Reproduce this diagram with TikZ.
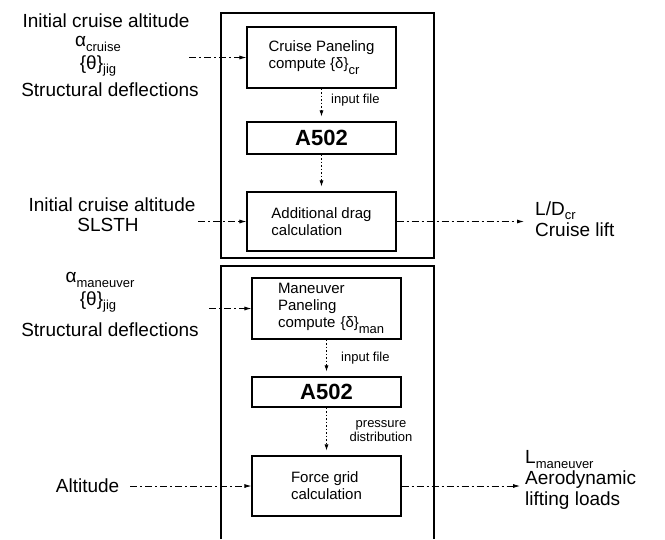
\documentclass[tikz,border=0pt]{standalone}
\usepackage{fontspec}
\setmainfont{Liberation Sans}
\usetikzlibrary{arrows.meta, positioning}

% subscripts set at a fixed size
\newcommand{\lowtxt}[1]{\raisebox{-0.45ex}{\fontsize{13}{13}\selectfont #1}}
\newcommand{\lowbox}[1]{\raisebox{-0.8ex}{\fontsize{13}{13}\selectfont #1}}

\begin{document}
\begin{tikzpicture}[x=1pt, y=-1pt,
    lbl/.style={font=\fontsize{19}{21}\selectfont, inner sep=1pt},
    procbox/.style={draw, line width=1.1pt, minimum width=149pt, inner sep=0pt,
        align=left, font=\fontsize{15}{17}\selectfont},
    tag/.style={font=\fontsize{13}{14}\selectfont, inner sep=1pt, align=center},
    frame/.style={line width=1.5pt},
    flowline/.style={line width=0.8pt, dash pattern=on 7pt off 3pt on 2pt off 3pt,
        -{Latex[length=7pt, width=4pt]}},
    dotline/.style={line width=0.8pt, dash pattern=on 1.5pt off 2pt,
        -{Latex[length=6pt, width=4pt]}, shorten >=5pt}
]

    % Parameters
    \def\xUp{321.5}
    \def\xLo{326.5}

    \useasboundingbox (0,0) rectangle (665,539);

    % Outer frames
    \draw[frame] (221,13) rectangle (434,258);
    \draw[frame] (221,539) -- (221,266) -- (434,266) -- (434,539);

    % Cruise chain
    \node[procbox, minimum height=61pt] (cruise) at (\xUp, 57.5)
        {Cruise Paneling\\compute \{δ\}\lowbox{cr}};
    \node[procbox, minimum height=32pt, font=\bfseries\fontsize{22}{24}\selectfont]
        (a502a) at (\xUp, 138) {A502};
    \node[procbox, minimum height=59pt] (drag) at (\xUp, 221.5)
        {Additional drag\\calculation};

    % Maneuver chain
    \node[procbox, minimum height=61pt, text width=97pt] (maneuver) at (\xLo, 308.5)
        {Maneuver\\Paneling\\compute~\{δ\}\lowbox{man}};
    \node[procbox, minimum height=30pt, font=\bfseries\fontsize{22}{24}\selectfont]
        (a502b) at (\xLo, 392) {A502};
    \node[procbox, minimum height=60pt] (force) at (\xLo, 486)
        {Force grid\\calculation};

    % Links inside the frames
    \draw[dotline] (cruise) -- (a502a);
    \draw[dotline] (a502a) -- (drag);
    \draw[dotline] (maneuver) -- (a502b);
    \draw[dotline] (a502b) -- (force);
    \node[tag, anchor=west] (fileA) at (330, 100) {input file};
    \node[tag, anchor=west] (fileB) at (340, 358) {input file};
    \node[tag] (press) at (381, 431) {pressure\\distribution};

    % Cruise inputs
    \node[lbl] (icaA) at (106, 21) {Initial cruise altitude};
    \node[lbl] (alcr) at (98, 44) {α\lowtxt{cruise}};
    \node[lbl] (thA) at (98, 66) {\{θ\}\lowtxt{jig}};
    \node[lbl] (sdA) at (110, 90) {Structural deflections};
    \node[lbl] (icaB) at (112, 205) {Initial cruise altitude};
    \node[lbl] (slsth) at (108, 225) {SLSTH};
    \coordinate (inCr) at ([xshift=-57pt]cruise.west);
    \coordinate (inSl) at ([xshift=-48pt]drag.west);
    \draw[flowline] (inCr) -- (cruise);
    \draw[flowline] (inSl) -- (drag);

    % Maneuver inputs
    \node[lbl] (alma) at (100, 280) {α\lowtxt{maneuver}};
    \node[lbl] (thB) at (98, 302) {\{θ\}\lowtxt{jig}};
    \node[lbl] (sdB) at (110, 330) {Structural deflections};
    \node[lbl, anchor=east] (alt) at ([xshift=-131pt]force.west) {Altitude};
    \coordinate (inMa) at ([xshift=-42pt]maneuver.west);
    \draw[flowline] (inMa) -- (maneuver);
    \draw[flowline, shorten <=10pt] (alt) -- (force);

    % Outputs
    \node[lbl, anchor=west, align=left] (ldcr) at (534, 219)
        {L/D\lowtxt{cr}\\Cruise lift};
    \node[lbl, anchor=west, align=left] (lman) at (524, 480)
        {L\lowtxt{maneuver}\\Aerodynamic\\lifting loads};
    \draw[flowline, shorten >=10pt] (drag) -- (ldcr.west |- drag);
    \draw[flowline, shorten >=4pt] (force) -- (lman.west |- force);

\end{tikzpicture}
\end{document}
